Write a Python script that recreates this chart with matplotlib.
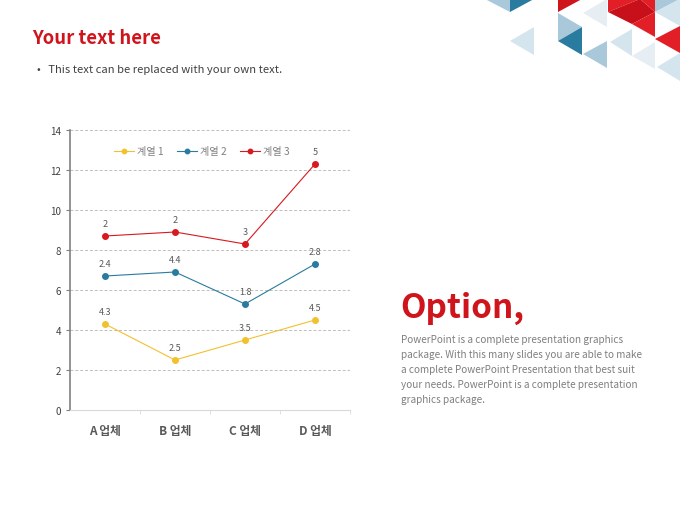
import numpy as np
import matplotlib.pyplot as plt
from matplotlib.patches import Polygon

plt.rcParams['font.family'] = ['Noto Sans CJK KR', 'DejaVu Sans']

categories = ['A 업체', 'B 업체', 'C 업체', 'D 업체']
series_names = ['계열 1', '계열 2', '계열 3']
series1 = [4.3, 2.5, 3.5, 4.5]
series2 = [2.4, 4.4, 1.8, 2.8]
series3 = [2, 2, 3, 5]
colors = ['#F2C12E', '#2A7BA0', '#D71920']

# decorative triangles, pixel coords (x, y from top) and colour
tri_shapes = [
    ([(485, 0), (510, 0), (510, 13)], '#A9C8DA'),
    ([(510, 0), (534, 0), (510, 13)], '#2A7BA0'),
    ([(510, 42), (534, 28), (534, 56)], '#D5E5EE'),
    ([(558, 0), (582, 0), (558, 13)], '#D0141C'),
    ([(558, 14), (582, 28), (558, 42)], '#A9C8DA'),
    ([(558, 42), (582, 28), (582, 56)], '#2A7BA0'),
    ([(583, 55), (607, 42), (607, 69)], '#A9C8DA'),
    ([(583, 14), (607, 0), (607, 28)], '#E6EEF3'),
    ([(608, 0), (640, 0), (608, 13)], '#E21F26'),
    ([(608, 13), (640, 0), (655, 13), (632, 25)], '#C8101A'),
    ([(640, 0), (655, 0), (655, 13)], '#E21F26'),
    ([(632, 25), (655, 13), (655, 38)], '#E21F26'),
    ([(655, 0), (680, 0), (655, 13)], '#A9C8DA'),
    ([(655, 13), (680, 0), (680, 27)], '#D5E5EE'),
    ([(655, 40), (680, 27), (680, 54)], '#E21F26'),
    ([(610, 43), (632, 30), (632, 57)], '#D5E5EE'),
    ([(632, 57), (655, 43), (655, 70)], '#E6EEF3'),
    ([(657, 68), (680, 54), (680, 82)], '#D5E5EE'),
]

W, H = 680, 510
fig = plt.figure(figsize=(6.8, 5.1), dpi=100)

for pts, c in tri_shapes:
    fig.patches.append(Polygon([(x / W, 1 - y / H) for x, y in pts], closed=True,
                               transform=fig.transFigure, facecolor=c, edgecolor='none'))

fig.text(32 / W, 1 - 38 / H, 'Your text here', color='#D0141C', fontsize=13.3,
         fontweight='bold', va='center', ha='left')
fig.text(37 / W, 1 - 70 / H, '•   This text can be replaced with your own text.',
         color='#404040', fontsize=8.1, va='center', ha='left')

fig.text(400 / W, 1 - 308 / H, 'Option,', color='#D0141C', fontsize=24,
         fontweight='bold', va='center', ha='left')
para = ('PowerPoint is a complete presentation graphics\n'
        'package. With this many slides you are able to make\n'
        'a complete PowerPoint Presentation that best suit\n'
        'your needs. PowerPoint is a complete presentation\n'
        'graphics package.')
fig.text(401 / W, 1 - 335 / H, para, color='#7F7F7F', fontsize=7.2,
         va='top', ha='left', linespacing=1.62)

ax = fig.add_axes([70 / W, 1 - 411 / H, 280 / W, 280 / H])
x = np.arange(len(categories))
stacked = np.cumsum([series1, series2, series3], axis=0)
raw = [series1, series2, series3]

for i in range(3):
    ax.plot(x, stacked[i], color=colors[i], lw=0.8, marker='o', ms=4,
            label=series_names[i], zorder=3)
    for xi, yi, v in zip(x, stacked[i], raw[i]):
        ax.annotate(f'{v:g}', (xi, yi), xytext=(0, 5.5), textcoords='offset points',
                    ha='center', va='bottom', fontsize=6.5, color='#595959')

ax.set_xlim(-0.5, 3.5)
ax.set_ylim(0, 14)
ax.set_yticks(range(0, 15, 2))
ax.yaxis.grid(True, color='#BFBFBF', ls=(0, (3, 2)), lw=0.7)
ax.set_axisbelow(True)
ax.set_xticks(x)
ax.set_xticklabels(categories, fontsize=8.5, fontweight='bold', color='#595959')
ax.set_xticks(np.arange(0.5, 4, 1), minor=True)
ax.tick_params(axis='x', which='major', length=0, pad=10)
ax.tick_params(axis='x', which='minor', length=3, color='#D9D9D9')
ax.tick_params(axis='y', length=3, labelsize=7, labelcolor='#404040', color='#808080')
for s in ['top', 'right']:
    ax.spines[s].set_visible(False)
ax.spines['left'].set_color('#808080')
ax.spines['left'].set_linewidth(1.2)
ax.spines['bottom'].set_color('#D9D9D9')

leg = ax.legend(loc='upper center', bbox_to_anchor=(0.47, 0.975), ncol=3, frameon=False,
                fontsize=7.3, handlelength=2, columnspacing=1.3, handletextpad=0.3,
                markerscale=0.8)
for t in leg.get_texts():
    t.set_color('#7F7F7F')

fig.savefig('out.png', dpi=100)
